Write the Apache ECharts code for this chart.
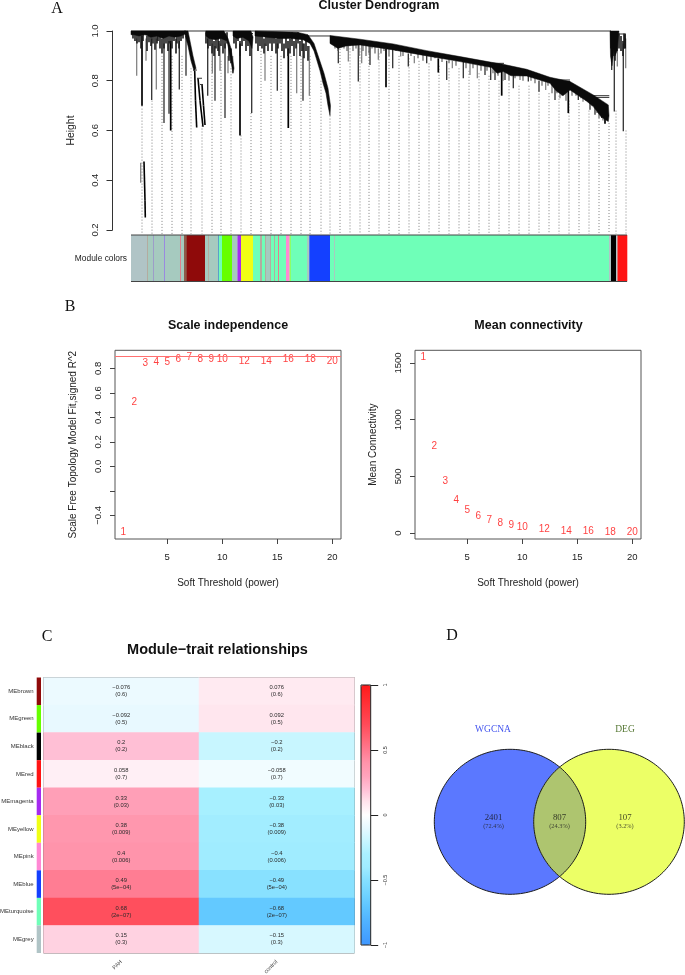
<!DOCTYPE html>
<html><head><meta charset="utf-8">
<style>html,body{margin:0;padding:0;background:#fff}#c{width:685px;height:975px;filter:blur(0.3px)}</style>
<script src="https://cdn.jsdelivr.net/npm/echarts@6/dist/echarts.min.js"></script>
</head><body><div id="c"></div>
<script>
// ---------- Panel A: dendrogram values (leaf position, height) ----------
const clusterLeft = [[0,1],[55,1],[55,.99],[50,.98],[44,.975],[38,.98],[32,.97],[26,.98],[20,.975],[14,.985],[8,.98],[3,.985],[0,.985]];
const branchLeft = [[53,1],[57,1],[60,.94],[62,.9],[65,.85],[63,.84],[60,.88],[57,.94]];
const clusterTwo = [[74.7,1],[93,1],[97,.97],[100,.93],[103,.85],[102,.83],[99,.9],[96,.96],[90,.97],[84,.965],[78,.97],[75,.98]];
const clusterThree = [[102,1],[120,1],[122,.975],[121,.93],[118,.96],[112,.975],[106,.97],[102,.98]];
const clusterFour = [[124,1],[166,.995],[177,.985],[183,.95],[188,.89],[193,.83],[197,.77],[199.5,.7],[199,.66],[197,.7],[195,.75],[192,.79],[189,.84],[186,.88],[183,.92],[179,.95],[172,.965],[160,.97],[148,.97],[136,.975],[124,.98]];
const mainTopEdge = [[199,.982],[229,.967],[262.3,.948],[295.7,.921],[329,.897],[360.7,.874],[372.3,.866],[395.7,.846],[419,.814],[439,.797],[462.3,.743],[477.3,.703]];
const mainLowerEdge = [[478,.66],[477.3,.636],[470,.655],[462.3,.696],[455,.72],[439,.763],[432,.74],[425,.76],[419,.79],[395.7,.819],[380,.82],[372.3,.837],[366,.83],[360.7,.853],[329,.877],[295.7,.9],[262.3,.924],[229,.944],[215,.94],[207,.93],[199,.95]];
const clusterRight = [[479,1],[488,1],[486,.92],[484,.9],[483,.93],[481,.86],[479.5,.9]];
const blackStalks = [[11,.98,.70],[109,.95,.58],[157.3,.93,.61],[255,.93,.774],[307.3,.89,.833],[370.7,.84,.74],[437.3,.78,.67],[474,.67,.627],[39.7,.96,.60],[494,.988,.93]];
const darkStalks = [[20.7,.97,.723],[33,.95,.63],[38,.96,.667],[48.3,.96,.765],[55,.98,.82],[76.7,.97,.74],[84,.94,.72],[94,.95,.65],[120.7,.98,.67],[146.3,.95,.76],[172,.95,.72],[207.3,.95,.87],[227.3,.95,.797],[239,.94,.863],[261.7,.93,.85],[277.3,.91,.857],[295.7,.9,.87],[315.7,.88,.803],[332.3,.88,.81],[354,.86,.823],[359.7,.86,.803],[364,.85,.803],[374,.84,.803],[382.3,.83,.77],[397.3,.82,.797],[408,.8,.756],[424,.78,.723],[447.3,.76,.723],[459,.72,.683],[464,.7,.663],[470.7,.67,.65],[477.3,.66,.656],[480.7,1,.843],[483.3,.95,.676],[492.3,.95,.597]];
const grayStalks = [[5.7,.97,.82],[15,.97,.88],[25.3,.97,.765],[9.7,.47,.39],[81.3,.95,.83],[89,.95,.84],[97,.9,.83],[101.7,.9,.83],[134,.95,.80],[165.7,.95,.75],[178.3,.94,.74],[217.3,.95,.877],[230.7,.95,.87],[247.3,.93,.884],[269.7,.92,.897],[283.3,.9,.87],[321.3,.88,.85],[339,.87,.823],[346.3,.87,.81],[389,.83,.803],[414.7,.8,.763],[429,.78,.73],[452,.74,.716],[486.3,.98,.857],[494.7,.97,.85]];
const fringeLeaf = [2,4,6,8,10,12,16,18,20,22,24,26,27,29,31,33,35,37,39,41,43,45,46,48,50,52,75,77,79,81,83,85,87,88,90,92,94,96,98,100,103,105,107,109,111,113,115,117,119,125,127,129,131,133,135,137,139,141,143,145,147,149,151,153,155,157,159,161,163,165,167,169,171,173,175,177,201,204,207,210,213,216,219,222,225,228,232,235,238,241,244,250,253,258,265,272,280,287,292,300,304,311,318,325,335,342,350,356,362,367,372,378,384,392,400,404,411,417,421,426,431,435,441,445,450,455,461,466,468,472,476,480,482,484,486,488,490,492,493];
const fringeBottom = [.97,.96,.95,.955,.93,.96,.92,.955,.94,.95,.925,.95,.96,.93,.91,.93,.95,.92,.95,.93,.96,.91,.95,.93,.96,.97,.95,.93,.94,.91,.90,.93,.92,.90,.94,.91,.93,.95,.88,.87,.95,.93,.96,.9,.94,.96,.92,.94,.90,.95,.92,.94,.93,.91,.94,.92,.95,.92,.95,.91,.93,.95,.92,.89,.93,.90,.91,.94,.90,.93,.95,.90,.92,.89,.92,.88,.95,.93,.92,.94,.93,.92,.94,.92,.93,.90,.92,.9,.91,.93,.91,.91,.92,.9,.92,.9,.9,.89,.88,.88,.89,.875,.87,.86,.85,.85,.84,.84,.83,.82,.8,.8,.81,.8,.8,.79,.78,.78,.75,.75,.74,.72,.74,.74,.73,.72,.7,.67,.65,.64,.64,.93,.9,.88,.92,.93,.92,.9,.93];
const leafPaths = [[[63.7,.84],[64.5,.72],[65.7,.612]],[[67,.81],[69,.72],[72,.615]],[[71,.785],[72.5,.7],[74,.622]],[[13,.475],[14,.32],[14.3,.25]]];
const linkLines = [[0,480,1],[176,199,.98],[62,66,.843],[66,71,.81],[69,72,.785],[113,122,.99],[114,122,.975],[360.7,373,.87],[419,439,.803],[429,439,.797],[462,478.3,.74],[464,478.3,.733],[486,495,.988]];
const guideLeaf = [11,21,31,41,51,60,71,81,90,100,110,120,130,140,150,160,170,179,190,199,209,219,229,238,248,258,268,278,288,298,308,318,328,338,348,358,368,378,388,398,408,418,428,438,448,458,468,478,485,495];
const guideTop = [.70,.72,.90,.90,.90,.85,.62,.88,.88,.85,.58,.67,.92,.90,.90,.90,.90,.90,.80,.66,.94,.93,.93,.92,.91,.90,.90,.89,.88,.87,.86,.85,.85,.84,.83,.82,.80,.79,.78,.78,.76,.75,.74,.72,.71,.68,.65,.63,.68,.60];
const moduleSegments = [[0,16,'grey'],[16,17,'tan'],[17,22,'mix'],[22,23,'lilac'],[23,33,'mix'],[33,34,'violet'],[34,49,'mix'],[49,50,'rose'],[50,53,'mix'],[53,55.7,'umber'],[55.7,74,'brown'],[74,77,'mix'],[77,78,'tan'],[78,87,'mix'],[87,88,'steel'],[88,91,'turquoise'],[91,101,'green'],[101,106.5,'mix'],[106.5,110,'magenta'],[110,122,'yellow'],[122,129,'turquoise'],[129,131,'tan'],[131,134,'turquoise'],[134,135,'tan'],[135,139,'mix'],[139,140,'tan'],[140,143,'turquoise'],[143,144,'tan'],[144,147,'turquoise'],[147,148,'rose'],[148,155,'turquoise'],[155,158.5,'pink'],[158.5,160,'lime'],[160,176,'turquoise'],[176,178.3,'mix'],[178.3,199,'blue'],[199,203,'turquoise'],[203,204,'mix'],[204,478,'turquoise'],[478,480,'grey'],[480,485,'black'],[485,486.5,'grey'],[486.5,496,'red']];

// ---------- Panel B ----------
const powers = [1,2,3,4,5,6,7,8,9,10,12,14,16,18,20];
const scaleFit = [-0.54,0.519,0.84,0.851,0.851,0.878,0.89,0.877,0.878,0.877,0.86,0.86,0.875,0.875,0.86];
const meanConnectivity = [1553,769,454,292,203,144,112,82,68,50,29,18,11,9,3];
const fitCutoff = 0.9;

// ---------- Panel C ----------
const moduleNames = ['MEbrown','MEgreen','MEblack','MEred','MEmagenta','MEyellow','MEpink','MEblue','MEturquoise','MEgrey'];
const rowColors = ['brown','green','black','red','magenta','yellow','pink','blue','turquoise','grey'];
const traits = ['PAH','control'];
const corPAH = [-0.076,-0.092,0.2,0.058,0.33,0.38,0.4,0.49,0.68,0.15];
const corControl = [0.076,0.092,-0.2,-0.058,-0.33,-0.38,-0.4,-0.49,-0.68,-0.15];
const pPAH = ['0.6','0.5','0.2','0.7','0.03','0.009','0.006','5e-04','2e-07','0.3'];
const pControl = pPAH;

// ---------- Panel D ----------
const vennNames = ['WGCNA','DEG'];
const vennCounts = [2401,807,107];
const vennPercents = ['72.4%','24.3%','3.2%'];

// ---------- Styles and layout ----------
const SANS = '"Liberation Sans", Arial, sans-serif', SERIF = '"Liberation Serif", serif';
const palette = {grey:'#b0c4c6',turquoise:'#6fffb8',brown:'#8f0a0a',green:'#66ff00',magenta:'#a52bf0',yellow:'#f0ff14',pink:'#ff88d4',blue:'#1440ff',black:'#000000',red:'#ff1414',tan:'#b3aca0',mix:'#a6cabf',lilac:'#9d9dc8',violet:'#9a8ae0',rose:'#e0808f',umber:'#8f5a4a',steel:'#5aa0c8',lime:'#8dff66'};
const heatStops = ['#3f97ff','#48a6ff','#52b5ff','#5fc6ff','#72d5ff','#85e0ff','#a0ecff','#aaf1ff','#c8f6ff','#e6f9ff','#ffffff','#ffe4ed','#ffbfd5','#ffa3bc','#ff94ab','#ff7a90','#ff6272','#ff4a58','#ff3a42','#ff2a2e','#ff1a1a'];
const fmtMinus = s => String(s).replace(/-/g,'\u2212');

const series = [];
const text = (t, x, y, o={}) => ({text:t,left:x,top:y,padding:0,textAlign:'center',textVerticalAlign:'middle',
  textStyle:Object.assign({fontFamily:SANS,fontWeight:'bold',fontSize:12.5,color:'#111'},o)});
function segs(data, g, style, z){
  series.push({type:'custom',xAxisIndex:g,yAxisIndex:g,silent:true,z:z||2,clip:false,data:data,
    renderItem:(p,api)=>{const a=api.coord([api.value(0),api.value(1)]),b=api.coord([api.value(2),api.value(3)]);
      return {type:'line',shape:{x1:a[0],y1:a[1],x2:b[0],y2:b[1]},style:Object.assign({fill:null},style)};}});
}
function poly(points, g, fill){
  series.push({type:'custom',xAxisIndex:g,yAxisIndex:g,silent:true,z:4,data:points,
    renderItem:(p,api)=>p.dataIndex===0?{type:'polygon',shape:{points:points.map(q=>api.coord(q))},style:{fill:fill,stroke:fill,lineWidth:.5}}:null});
}
const stalks = a => a.map(s=>[s[0],s[1],s[0],s[2]]);
const paths = [];
leafPaths.forEach(l=>{for(let i=0;i<l.length-1;i++)paths.push([l[i][0],l[i][1],l[i+1][0],l[i+1][1]]);});
// where a hanging branch joins the main band (drawing attachment only)
const joinMain = u => {for(let i=0;i<mainTopEdge.length-1;i++){const a=mainTopEdge[i],b=mainTopEdge[i+1];
  if(u>=a[0]&&u<=b[0])return a[1]+(b[1]-a[1])*(u-a[0])/(b[0]-a[0])-.012;}return .7;};
const onMain = u => u>199&&u<478;
const fringeSegs = fringeLeaf.map((u,i)=>[u,onMain(u)?joinMain(u):Math.min(.995,fringeBottom[i]+.06),u,fringeBottom[i]]);

// Panel A
segs(guideLeaf.map((u,i)=>[u,guideTop[i],u,0.184]),0,{stroke:'#808080',lineWidth:1,lineDash:[1,2]},1);
segs(stalks(grayStalks),0,{stroke:'#7a7a7a',lineWidth:1.2},2);
segs(stalks(darkStalks),0,{stroke:'#303030',lineWidth:1.3},3);
segs(stalks(blackStalks),0,{stroke:'#000',lineWidth:1.7},3);
segs(fringeSegs.filter(s=>!onMain(s[0])),0,{stroke:'#1a1a1a',lineWidth:1.6},3);
segs(fringeSegs.filter(s=>onMain(s[0])),0,{stroke:'#555',lineWidth:1.1},3);
segs(paths,0,{stroke:'#000',lineWidth:1.6},3);
segs(linkLines.map(l=>[l[0],l[2],l[1],l[2]]),0,{stroke:'#333',lineWidth:1},3);
[clusterLeft,branchLeft,clusterTwo,clusterThree,clusterFour,mainTopEdge.concat(mainLowerEdge),clusterRight].forEach(c=>poly(c,0,'#0a0a0a'));
series.push({type:'custom',xAxisIndex:1,yAxisIndex:1,silent:true,z:2,data:moduleSegments.map(s=>[s[0],s[1]]),
  renderItem:(p,api)=>{const a=api.coord([api.value(0),1]),b=api.coord([api.value(1),0]);
    return {type:'rect',shape:{x:a[0],y:a[1],width:b[0]-a[0]+.3,height:b[1]-a[1]},style:{fill:palette[moduleSegments[p.dataIndex][2]]}};}});
segs([[0,1,496,1],[0,0,496,0]],1,{stroke:'#444',lineWidth:1},3);

// Panel B
const powerLabels = (vals,g,extra)=>series.push(Object.assign({type:'scatter',xAxisIndex:g,yAxisIndex:g,symbolSize:0,silent:true,
  data:powers.map((x,i)=>[x,vals[i]]),
  label:{show:true,position:'inside',formatter:p=>String(p.value[0]),color:'#ff1010',fontFamily:SANS,fontSize:10}},extra||{}));
powerLabels(scaleFit,2,{markLine:{silent:true,symbol:'none',label:{show:false},animation:false,lineStyle:{color:'#ff7070',type:'solid',width:1},data:[{yAxis:fitCutoff}]}});
powerLabels(meanConnectivity,3);

// Panel C
const heatData = [];
moduleNames.forEach((m,r)=>{heatData.push([0,r,corPAH[r]]);heatData.push([1,r,corControl[r]]);});
series.push({type:'heatmap',xAxisIndex:4,yAxisIndex:4,silent:true,data:heatData,itemStyle:{borderWidth:0},
  label:{show:true,color:'#2a2a2a',fontFamily:SANS,fontSize:5.8,lineHeight:7,
    formatter:p=>{const [c,r,v]=p.data;return fmtMinus(v)+'\n('+fmtMinus((c?pControl:pPAH)[r])+')';}}});
const heatIdx = series.length-1;
series.push({type:'custom',xAxisIndex:5,yAxisIndex:5,silent:true,data:rowColors.map((n,r)=>[0,r]),
  renderItem:(p,api)=>{const r=p.dataIndex,a=api.coord([0,r]),b=api.coord([1,r]),h=api.size([0,1])[1];
    return {type:'rect',shape:{x:a[0],y:a[1]-h/2,width:b[0]-a[0],height:h},style:{fill:palette[rowColors[r]]}};}});
segs([[0,-1,1,-1],[1,-1,1,1],[1,1,0,1],[0,1,0,-1]],6,{stroke:'#222',lineWidth:1},8);

// Panel D
const ellL=[90,111.8,75.7,72.5], ellR=[189,111.8,75.3,72.5];
const ellipsePoints=(e,n=180)=>Array.from({length:n},(_,i)=>{const t=i/n*2*Math.PI;return [e[0]+e[2]*Math.cos(t),e[1]+e[3]*Math.sin(t)];});
const inside=(e,q)=>((q[0]-e[0])/e[2])**2+((q[1]-e[1])/e[3])**2<=1;
const lensPoints=()=>{
  const pts=[];
  for(let i=-90;i<=90;i+=2){const t=i*Math.PI/180,q=[ellL[0]+ellL[2]*Math.cos(t),ellL[1]+ellL[3]*Math.sin(t)];if(inside(ellR,q))pts.push(q);}
  for(let i=90;i<=270;i+=2){const t=i*Math.PI/180,q=[ellR[0]+ellR[2]*Math.cos(t),ellR[1]+ellR[3]*Math.sin(t)];if(inside(ellL,q))pts.push(q);}
  return pts;};
const outline={stroke:'#1c1c1c',lineWidth:1};
series.push({type:'custom',xAxisIndex:7,yAxisIndex:7,silent:true,z:2,data:[[0]],encode:{x:0},
  renderItem:(p,api)=>{const c=a=>a.map(q=>api.coord(q));
    return {type:'group',children:[
      {type:'polygon',shape:{points:c(ellipsePoints(ellL))},style:{fill:'#5b78ff'}},
      {type:'polygon',shape:{points:c(ellipsePoints(ellR))},style:{fill:'#ecff66'}},
      {type:'polygon',shape:{points:c(lensPoints())},style:{fill:'#aec56f'}},
      {type:'polygon',shape:{points:c(ellipsePoints(ellL))},style:Object.assign({fill:null},outline)},
      {type:'polygon',shape:{points:c(ellipsePoints(ellR))},style:Object.assign({fill:null},outline)}]};}});
const vennTextX=[73.5,139.5,205];
series.push({type:'scatter',xAxisIndex:7,yAxisIndex:7,symbolSize:0,silent:true,z:5,
  data:vennCounts.map((v,i)=>[vennTextX[i],112]),
  label:{show:true,position:'inside',color:'#222',fontFamily:SERIF,
    formatter:p=>'{a|'+vennCounts[p.dataIndex]+'}\n{b|('+vennPercents[p.dataIndex]+')}',
    rich:{a:{fontFamily:SERIF,fontSize:8.8,lineHeight:8,color:'#111'},b:{fontFamily:SERIF,fontSize:6.3,lineHeight:8,color:'#222'}}}});

// Axes helpers
const hidden = (o)=>Object.assign({type:'value',show:false},o);
const axisBase = {axisLine:{show:false,onZero:false},splitLine:{show:false}};
const tick = {show:true,length:5,lineStyle:{color:'#444',width:1}};
const softX = (g)=>Object.assign({},axisBase,{type:'value',gridIndex:g,min:0.25,max:20.8,name:'Soft Threshold (power)',nameLocation:'middle',nameGap:39,
  nameTextStyle:{fontFamily:SANS,fontSize:10,color:'#222'},
  axisTick:Object.assign({},tick,{customValues:[5,10,15,20]}),
  axisLabel:{customValues:[5,10,15,20],fontFamily:SANS,fontSize:9.5,color:'#222',margin:13}});
const softY = (g,min,max,ticks,labels,name,gap)=>Object.assign({},axisBase,{type:'value',gridIndex:g,min:min,max:max,name:name,nameLocation:'middle',nameGap:gap,
  nameTextStyle:{fontFamily:SANS,fontSize:10,color:'#222'},
  axisTick:Object.assign({},tick,{customValues:ticks}),
  axisLabel:{customValues:labels,rotate:90,fontFamily:SANS,fontSize:9.5,color:'#222',margin:12,formatter:v=>fmtMinus(Math.abs(max)<2?v.toFixed(1):v)}});
const G = o => Object.assign({outerBoundsMode:'none',containLabel:false},o);

const option = {
  animation:false,backgroundColor:'#fff',
  title:[
    text('Cluster Dendrogram',379,6),
    text('Scale independence',228,326),
    text('Mean connectivity',528.5,326),
    text('Module\u2212trait relationships',217.5,650,{fontSize:14.5}),
    text('A',57,9,{fontFamily:SERIF,fontWeight:'normal',fontSize:16}),
    text('B',70,307,{fontFamily:SERIF,fontWeight:'normal',fontSize:16}),
    text('C',47,637,{fontFamily:SERIF,fontWeight:'normal',fontSize:16}),
    text('D',452,636,{fontFamily:SERIF,fontWeight:'normal',fontSize:16}),
    text(vennNames[0],493,729,{fontFamily:SERIF,fontWeight:'normal',fontSize:9.5,color:'#4455ee'}),
    text(vennNames[1],625,729,{fontFamily:SERIF,fontWeight:'normal',fontSize:9.5,color:'#557733'})
  ],
  grid:[
    G({left:131,top:31,width:496,height:199}),
    G({left:131,top:235,width:496,height:46.5}),
    G({left:115,top:350.3,width:226,height:188.7,show:true,borderColor:'#555',borderWidth:1,backgroundColor:'transparent'}),
    G({left:415,top:350.3,width:226,height:188.7,show:true,borderColor:'#555',borderWidth:1,backgroundColor:'transparent'}),
    G({left:43.5,top:677.5,width:311,height:275.5,show:true,borderColor:'#666',borderWidth:1,backgroundColor:'transparent'}),
    G({left:36.7,top:677.5,width:4.3,height:275.5}),
    G({left:361,top:685,width:9.7,height:260}),
    G({left:420,top:710,width:265,height:190})
  ],
  xAxis:[
    hidden({gridIndex:0,min:0,max:496}),
    hidden({gridIndex:1,min:0,max:496}),
    softX(2),softX(3),
    {type:'category',gridIndex:4,data:traits,axisLine:{show:false,onZero:false},axisTick:{show:false},
      axisLabel:{rotate:45,fontFamily:SANS,fontSize:5.5,color:'#444',margin:8,interval:0}},
    hidden({gridIndex:5,min:0,max:1}),
    hidden({gridIndex:6,min:0,max:1}),
    hidden({gridIndex:7,min:0,max:265})
  ],
  yAxis:[
    {type:'value',gridIndex:0,min:0.2,max:1,interval:0.2,offset:18.5,name:'Height',nameLocation:'middle',nameGap:36,
      nameTextStyle:{fontFamily:SANS,fontSize:10.4,color:'#222'},splitLine:{show:false},
      axisLine:{show:true,onZero:false,lineStyle:{color:'#333',width:1}},axisTick:{show:true,length:6,lineStyle:{color:'#333',width:1}},
      axisLabel:{rotate:90,fontFamily:SANS,fontSize:9.5,color:'#222',margin:12,formatter:v=>v.toFixed(1)}},
    {type:'value',gridIndex:1,min:0,max:1,name:'Module colors',nameLocation:'middle',nameRotate:0,nameGap:4,
      nameTextStyle:{fontFamily:SANS,fontSize:8.4,color:'#222',align:'right',verticalAlign:'middle'},
      splitLine:{show:false},axisLine:{show:false,onZero:false},axisTick:{show:false},axisLabel:{show:false}},
    softY(2,-0.593,0.947,[-0.4,-0.2,0,0.2,0.4,0.6,0.8],[-0.4,0,0.2,0.4,0.6,0.8],'Scale Free Topology Model Fit,signed R^2',37),
    softY(3,-53,1612,[0,500,1000,1500],[0,500,1000,1500],'Mean Connectivity',37),
    {type:'category',gridIndex:4,data:moduleNames,inverse:true,axisLine:{show:false,onZero:false},axisTick:{show:false},axisLabel:{show:false}},
    {type:'category',gridIndex:5,data:moduleNames,inverse:true,axisLine:{show:false,onZero:false},axisTick:{show:false},
      axisLabel:{fontFamily:SANS,fontSize:6,color:'#333',margin:3,interval:0}},
    {type:'value',gridIndex:6,min:-1,max:1,interval:0.5,position:'right',splitLine:{show:false},
      axisLine:{show:false,onZero:false},axisTick:{show:true,length:7.5,lineStyle:{color:'#222',width:1}},
      axisLabel:{rotate:90,fontFamily:SANS,fontSize:5.5,color:'#333',margin:11.5,formatter:v=>fmtMinus(v)}},
    hidden({gridIndex:7,min:0,max:190,inverse:true})
  ],
  visualMap:[{type:'continuous',min:-1,max:1,seriesIndex:heatIdx,calculable:false,realtime:false,hoverLink:false,
    orient:'vertical',left:361,top:685,itemWidth:9.7,itemHeight:260,padding:0,text:null,showLabel:false,
    textStyle:{fontSize:0},inRange:{color:heatStops}}],
  series:series
};
echarts.init(document.getElementById('c'),null,{renderer:'canvas'}).setOption(option);
</script></body></html>
